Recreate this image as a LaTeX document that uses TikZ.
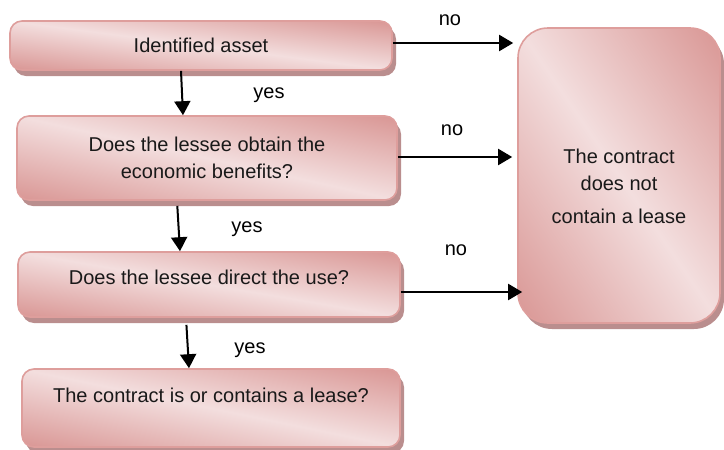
\documentclass[tikz,border=0pt]{standalone}
\usepackage{fontspec}
\setmainfont{Liberation Sans}
\usetikzlibrary{shadows,arrows.meta}
\definecolor{roseline}{RGB}{222,158,156}
\definecolor{roseshadow}{RGB}{186,142,142}
\pgfdeclarefunctionalshading{rosediag}{\pgfpoint{0bp}{0bp}}{\pgfpoint{100bp}{100bp}}{}{
  add 100 sub abs 50 div
  dup dup
  -0.102 mul 0.953 add
  3 1 roll
  -0.283 mul 0.871 add
  exch
  -0.291 mul 0.871 add
}

\begin{document}
\begin{tikzpicture}[x=0.5pt,y=-0.5pt,font=\fontsize{10}{13.5}\selectfont]
\tikzset{box/.style={draw=roseline, line width=0.8pt, rounded corners=6pt, shade, shading=rosediag, drop shadow={shadow xshift=2pt, shadow yshift=-3pt, fill=roseshadow, opacity=1}, align=center, text=black!90, inner sep=0pt}}
\tikzset{flow/.style={line width=1pt, -{Triangle[length=7pt,width=8pt]}}}
\useasboundingbox (0,0) rectangle (724,450);
\node[box, minimum width=191pt, minimum height=24.5pt] (asset) at (201,45.5) {Identified asset};
\node[box, minimum width=190pt, minimum height=42pt] (benefit) at (207,158) {Does the lessee obtain the\\economic benefits?};
\node[box, minimum width=191pt, minimum height=32.5pt, text height=7.5pt, text depth=7.5pt] (use) at (209,284.5) {Does the lessee direct the use?};
\node[box, minimum width=189pt, minimum height=39pt, text height=7.5pt, text depth=13.5pt] (lease) at (211,408) {The contract is or contains a lease?};
\node[box, rounded corners=15pt, minimum width=101pt, minimum height=147.5pt, text height=47.5pt, text depth=0pt] (nolease) at (619,175.5) {The contract\\does not\\[3pt]contain a lease};
\draw[flow] ([xshift=-10pt]asset.south) -- ([xshift=-12pt]benefit.north);
\draw[flow, shorten <=2.5pt] ([xshift=-15pt]benefit.south) -- ([xshift=-14.5pt]use.north);
\draw[flow, shorten <=3.5pt] ([xshift=-11.5pt]use.south) -- ([xshift=-11pt]lease.north);
\draw[flow, shorten >=2pt] ([yshift=1.25pt]asset.east) -- ([yshift=1.25pt]nolease.west |- asset.east);
\draw[flow, shorten >=2.5pt] ([yshift=0.5pt]benefit.east) -- ([yshift=0.5pt]nolease.west |- benefit.east);
\draw[flow, shorten >=-2.5pt] ([yshift=-3.75pt]use.east) -- ([yshift=-3.75pt]nolease.west |- use.east);
\node (yes1) at (269,95) {yes};
\node (yes2) at (247,229) {yes};
\node (yes3) at (250,350) {yes};
\node (no1) at (450,20) {no};
\node (no2) at (452,130) {no};
\node (no3) at (456,250) {no};
\end{tikzpicture}
\end{document}
